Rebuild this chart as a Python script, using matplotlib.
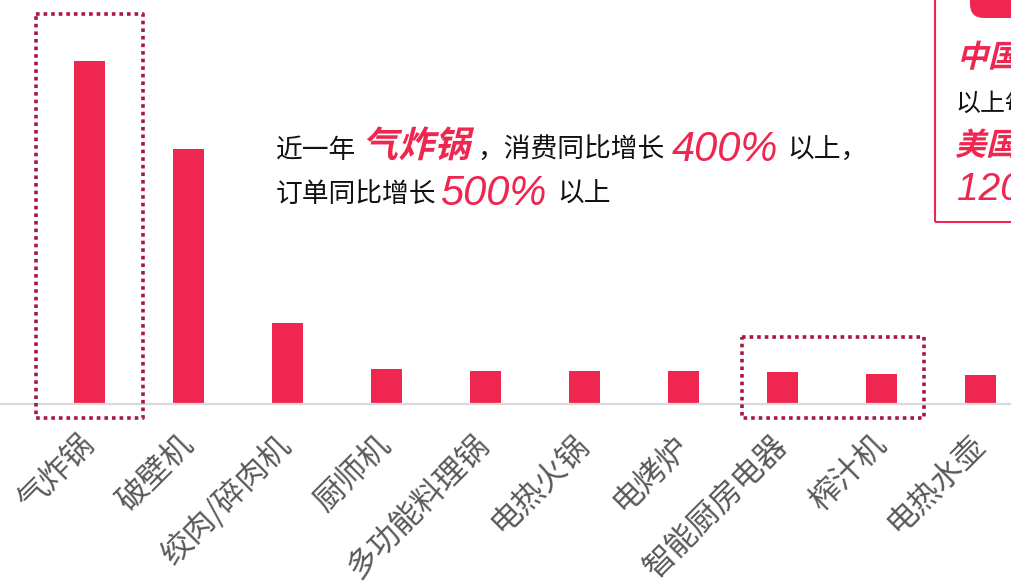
import matplotlib
matplotlib.use("Agg")
import matplotlib.pyplot as plt
from matplotlib.patches import Rectangle, FancyBboxPatch, PathPatch
from matplotlib.textpath import TextPath
from matplotlib.font_manager import FontProperties
from matplotlib.transforms import Affine2D, IdentityTransform

plt.rcParams['font.family'] = ['Noto Sans CJK SC', 'DejaVu Sans']

# categories and relative sales growth index
categories = ['气炸锅', '破壁机', '绞肉/碎肉机', '厨师机', '多功能料理锅',
              '电热火锅', '电烤炉', '智能厨房电器', '榨汁机', '电热水壶']
values = [100, 74.3, 23.6, 10.2, 9.6, 9.6, 9.6, 9.3, 8.7, 8.5]

# highlighted groups: first and last bar index in each dotted frame
highlights = [(0, 0), (7, 8)]

RED = '#EE2650'
DARK = '#A8173C'
GREY = '#595959'

W, H = 1012, 581
fig = plt.figure(figsize=(W / 100, H / 100), dpi=100)
ax = fig.add_axes([0, (H - 404) / H, 1, 404 / H])

x = list(range(len(categories)))
ax.bar(x, values, width=0.313, color=RED, zorder=2)
ax.set_xlim(-0.9, 9.32)
ax.set_ylim(0, 117.8)

for s in ['top', 'right', 'left']:
    ax.spines[s].set_visible(False)
ax.spines['bottom'].set_color('#D9D9D9')
ax.spines['bottom'].set_linewidth(1.6)
ax.set_yticks([])
ax.set_xticks(x)
ax.set_xticklabels(categories, rotation=45, ha='right', va='center',
                   rotation_mode='anchor', fontsize=22.5, color=GREY)
ax.tick_params(axis='x', length=0, pad=26)

# dotted frames around the highlighted bars
frame_pad = [(0.535, 0.545, 13.7), (0.405, 0.435, 10.2)]
for (i0, i1), (pl, pr, pt) in zip(highlights, frame_pad):
    left = i0 - pl
    right = i1 + pr
    top = max(values[i0:i1 + 1]) + pt
    bottom = -4.1
    ax.plot([left, right, right, left, left], [top, top, bottom, bottom, top],
            color=DARK, lw=2.6, ls=(0, (1, 1.1)), solid_capstyle='butt',
            dash_capstyle='butt', clip_on=False, zorder=3)

px = IdentityTransform()


def black(xp, yp, s, size=19.3):
    fig.text(xp, H - yp, s, transform=px, fontsize=size, color='#111111',
             ha='left', va='baseline')


def red_num(xp, yp, s, size=30):
    fig.text(xp, H - yp, s, transform=px, fontsize=size, color=RED,
             family='Liberation Sans', style='italic', ha='left', va='baseline')


def red_cjk(xp, yp, s, size=36):
    # slanted bold CJK text drawn as a path
    tp = TextPath((0, 0), s, size=size,
                  prop=FontProperties(family='Noto Sans CJK SC', weight='bold'))
    tr = Affine2D().skew_deg(14, 0).translate(xp, H - yp) + px
    fig.add_artist(PathPatch(tp, transform=tr, color=RED, lw=0))


# headline annotation
black(276, 158, '近一年')
red_cjk(362, 157, '气炸锅')
black(477, 158, '，消费同比增长')
red_num(672, 161, '400%')
black(787, 158, '以上，')
black(276, 202, '订单同比增长')
red_num(440, 205, '500%')
black(557, 202, '以上')

# side panel on the right edge
fig.add_artist(Rectangle((935, H - 222), 200, 240, transform=px, fill=False,
                         edgecolor=RED, lw=1.5))
fig.add_artist(FancyBboxPatch((970, H - 18), 200, 60, transform=px,
                              boxstyle='round,pad=0,rounding_size=14',
                              facecolor=RED, edgecolor='none'))
red_cjk(957, 67, '中国市场', size=31)
black(955, 111, '以上每年', size=18)
red_cjk(955, 155, '美国市场', size=31)
red_num(957, 200, '120%', size=28)

fig.savefig('out.png', dpi=100)
